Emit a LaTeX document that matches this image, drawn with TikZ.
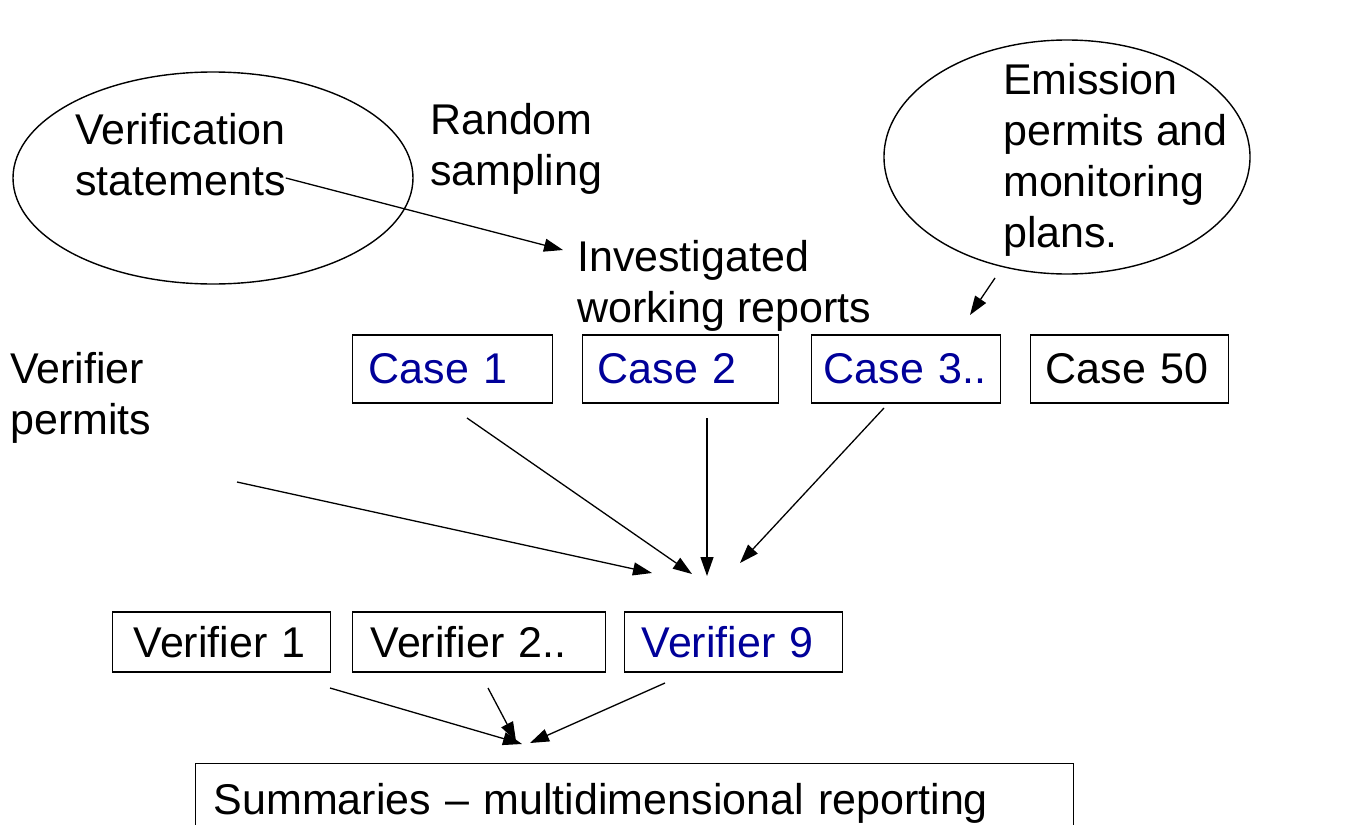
\documentclass[tikz,border=0pt]{standalone}
\usepackage{fontspec}
\setmainfont{Liberation Sans}
\usepackage{tikz}
\usetikzlibrary{shapes.geometric,arrows.meta,positioning}
\usepackage{xcolor}
\definecolor{CaseBlue}{RGB}{0,0,153}

\begin{document}
\begin{tikzpicture}[x=1pt,y=-1pt,
  every node/.style={font=\fontsize{43}{51}\selectfont},
  txt/.style={align=left,anchor=north west,inner sep=0pt},
  bubble/.style={draw,ellipse,line width=1.4pt,inner sep=0pt},
  box/.style={draw,line width=1.4pt,anchor=west,inner xsep=12pt,inner ysep=0pt,
              align=left,text width=#1},
  link/.style={-{Triangle[length=19pt,width=13pt]},line width=1.3pt},
]
\useasboundingbox (0,0) rectangle (1353,825);
% bubbles
\node[bubble,minimum width=400,minimum height=212] (stmts) at (213,178) {};
\node[txt] (stmtstxt) at (75,113) {Verification\\statements};
\node[bubble,minimum width=366,minimum height=234] (emis) at (1067,157) {};
\node[txt] (emistxt) at (1003,63) {Emission\\permits and\\monitoring\\plans.};
% free texts
\node[txt] (sampling) at (430,103) {Random\\sampling};
\node[txt] (reports) at (577,240) {Investigated\\working reports};
\node[txt] (vpermits) at (10,352) {Verifier\\permits};
% cases
\node[box=168,minimum height=68,text=CaseBlue,inner xsep=16pt] (case1) at (352,369) {Case 1};
\node[box=166,minimum height=68,text=CaseBlue,inner xsep=15pt] (case2) at (582,369) {Case 2};
\node[box=165,minimum height=68,text=CaseBlue,inner xsep=12pt] (case3) at (811,369) {Case 3..};
\node[box=168,minimum height=68,inner xsep=15pt] (case50) at (1030,369) {Case 50};
% verifiers
\node[box=176,minimum height=60,inner xsep=21pt] (ver1) at (112,642) {Verifier 1};
\node[box=217,minimum height=60,inner xsep=18pt] (ver2) at (352,642) {Verifier 2..};
\node[box=184,minimum height=60,text=CaseBlue,inner xsep=17pt] (ver9) at (624,642) {Verifier 9};
% summary
\node[box=842,minimum height=110,anchor=north west,text depth=40pt,inner xsep=18pt] (summ) at (195,763) {Summaries -- multidimensional reporting};
% arrow ends
\coordinate (sEnd) at (563,250);
\coordinate (eStart) at (995,278);
\coordinate (eEnd) at (970,315);
\coordinate (pStart) at (237,482);
\coordinate (pEnd) at (652,573);
\coordinate (c1Start) at (467,418);
\coordinate (c1End) at (692,574);
\coordinate (c2Start) at (707,418);
\coordinate (c2End) at (707,576);
\coordinate (c3Start) at (884,408);
\coordinate (c3End) at (740,563);
\coordinate (v1Start) at (330,688);
\coordinate (v1End) at (522,744);
\coordinate (v2Start) at (488,688);
\coordinate (v2End) at (516,741);
\coordinate (v9Start) at (665,683);
\coordinate (v9End) at (530,743);
\draw[link] (stmtstxt.south east)+(0,-18) -- (sEnd);
\draw[link] (eStart) -- (eEnd);
\draw[link] (pStart) -- (pEnd);
\draw[link] (c1Start) -- (c1End);
\draw[link] (c2Start) -- (c2End);
\draw[link] (c3Start) -- (c3End);
\draw[link] (v1Start) -- (v1End);
\draw[link] (v2Start) -- (v2End);
\draw[link] (v9Start) -- (v9End);
\end{tikzpicture}
\end{document}
